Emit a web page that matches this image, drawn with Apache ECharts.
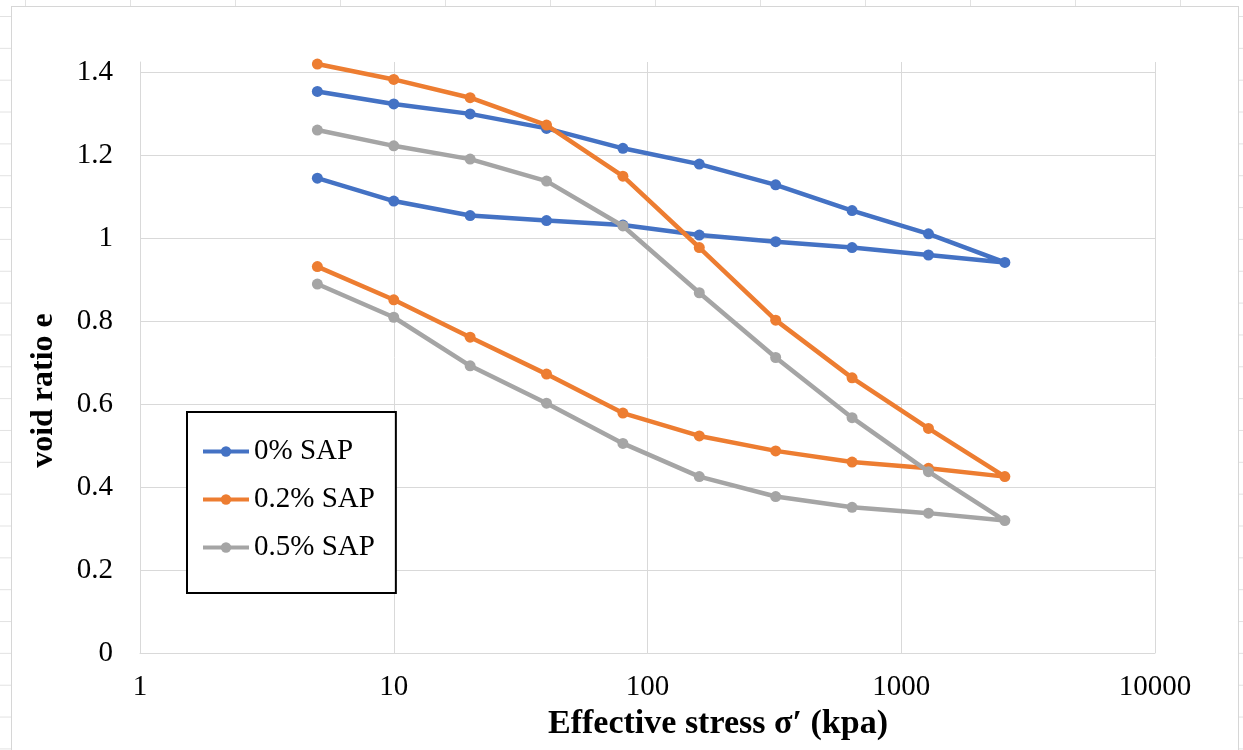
<!DOCTYPE html>
<html>
<head>
<meta charset="utf-8">
<script src="https://cdn.jsdelivr.net/npm/echarts@6/dist/echarts.min.js"></script>
<style>
  html, body { margin: 0; padding: 0; width: 1243px; height: 750px; overflow: hidden; }
  body {
    background-color: #ffffff;
    background-image:
      linear-gradient(to right, #e2e2e2 1px, transparent 1px),
      linear-gradient(to bottom, #e2e2e2 1px, transparent 1px);
    background-size: 105px 31.85px;
    background-position: 25px 16px;
  }
  #chart {
    position: absolute; left: 11px; top: 6px;
    width: 1226px; height: 760px;
    border: 1px solid #d6d6d6; background: #ffffff;
  }
</style>
</head>
<body>
<div id="chart"></div>
<script>
// Oedometer test: loading branch then unloading branch (kPa)
const loadStress   = [5, 10, 20, 40, 80, 160, 320, 640, 1280, 2560];
const unloadStress = [1280, 640, 320, 160, 80, 40, 20, 10, 5];

// void ratio e for each SAP content
const sap0Load    = [1.353, 1.323, 1.299, 1.264, 1.216, 1.178, 1.128, 1.066, 1.010, 0.941];
const sap0Unload  = [0.959, 0.977, 0.991, 1.007, 1.031, 1.042, 1.054, 1.089, 1.144];
const sap02Load   = [1.419, 1.382, 1.338, 1.272, 1.149, 0.977, 0.802, 0.663, 0.541, 0.425];
const sap02Unload = [0.445, 0.460, 0.487, 0.523, 0.578, 0.672, 0.761, 0.851, 0.931];
const sap05Load   = [1.260, 1.222, 1.190, 1.137, 1.029, 0.868, 0.712, 0.567, 0.437, 0.319];
const sap05Unload = [0.337, 0.351, 0.377, 0.425, 0.505, 0.602, 0.692, 0.809, 0.889];

const seriesNames  = ['0% SAP', '0.2% SAP', '0.5% SAP'];
const seriesColors = ['#4472C4', '#ED7D31', '#A5A5A5'];

const xAxisTitle = 'Effective stress σ′ (kpa)';
const yAxisTitle = 'void ratio e';

function curve(load, unload) {
  const pts = loadStress.map((s, i) => [s, load[i]]);
  return pts.concat(unloadStress.map((s, i) => [s, unload[i]]));
}

const curves = [
  curve(sap0Load, sap0Unload),
  curve(sap02Load, sap02Unload),
  curve(sap05Load, sap05Unload)
];

const FONT = "'Liberation Serif', 'Times New Roman', serif";
const GRID = '#d9d9d9';

const chart = echarts.init(document.getElementById('chart'), null, { renderer: 'canvas' });
chart.setOption({
  animation: false,
  backgroundColor: '#ffffff',
  textStyle: { fontFamily: FONT, color: '#000' },
  grid: { left: 128, top: 55, width: 1015, height: 591, containLabel: false },
  legend: {
    orient: 'vertical',
    left: 175, top: 405,
    data: seriesNames,
    itemWidth: 46, itemHeight: 13, itemGap: 19,
    padding: [25, 21, 31, 14],
    borderColor: '#000', borderWidth: 2,
    backgroundColor: '#ffffff',
    lineStyle: { width: 4 },
    textStyle: { fontFamily: FONT, fontSize: 29, color: '#000' }
  },
  xAxis: {
    type: 'log', logBase: 10, min: 1, max: 10000,
    name: xAxisTitle,
    nameLocation: 'middle', nameGap: 54,
    nameTextStyle: { fontFamily: FONT, fontSize: 34, fontWeight: 'bold', color: '#000', padding: [0, 0, 0, 141] },
    axisLine: { show: true, lineStyle: { color: GRID, width: 1 } },
    axisTick: { show: false },
    axisLabel: { fontFamily: FONT, fontSize: 29, color: '#000', margin: 20,
                 formatter: v => String(Math.round(v)) },
    splitLine: { show: true, lineStyle: { color: GRID, width: 1 } },
    minorTick: { show: false }
  },
  yAxis: {
    type: 'value', min: 0, max: 1.424, interval: 0.2,
    name: yAxisTitle,
    nameLocation: 'middle', nameGap: 80, nameRotate: 90,
    nameTextStyle: { fontFamily: FONT, fontSize: 32, fontWeight: 'bold', color: '#000', padding: [0, 66, 0, 0] },
    axisLine: { show: true, lineStyle: { color: GRID, width: 1 } },
    axisTick: { show: false },
    axisLabel: { fontFamily: FONT, fontSize: 29, color: '#000', margin: 27, showMaxLabel: false },
    splitLine: { show: true, showMaxLine: false, lineStyle: { color: GRID, width: 1 } }
  },
  series: curves.map((data, i) => ({
    name: seriesNames[i],
    type: 'line',
    data: data,
    symbol: 'circle',
    symbolSize: 11,
    showAllSymbol: true,
    itemStyle: { color: seriesColors[i] },
    lineStyle: { color: seriesColors[i], width: 4.5 },
    emphasis: { disabled: true },
    z: 2 + i
  }))
});
</script>
</body>
</html>
